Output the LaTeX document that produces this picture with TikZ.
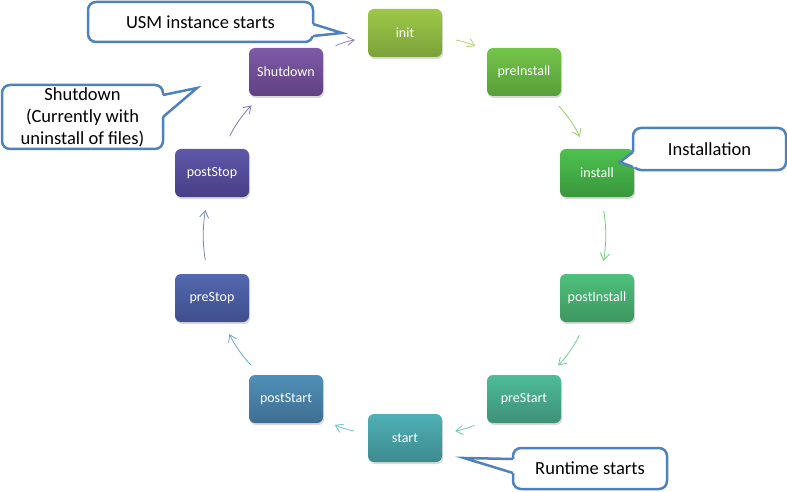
\documentclass[tikz,border=0pt]{standalone}
\usepackage{fontspec}
\setmainfont{Carlito}
\usetikzlibrary{arrows.meta,shadows}
\definecolor{cb}{HTML}{4F81BD}
\definecolor{t1}{HTML}{9DC847}\definecolor{b1}{HTML}{7AA23A}
\definecolor{t2}{HTML}{74C44A}\definecolor{b2}{HTML}{579E39}
\definecolor{t3}{HTML}{4CC24E}\definecolor{b3}{HTML}{3A963C}
\definecolor{t4}{HTML}{4EC07C}\definecolor{b4}{HTML}{3D9660}
\definecolor{t5}{HTML}{4EBC98}\definecolor{b5}{HTML}{3E9078}
\definecolor{t6}{HTML}{4EB0B5}\definecolor{b6}{HTML}{3E8A8E}
\definecolor{t7}{HTML}{5090B8}\definecolor{b7}{HTML}{3E6E90}
\definecolor{t8}{HTML}{5468B0}\definecolor{b8}{HTML}{3F4E8C}
\definecolor{t9}{HTML}{5E58A8}\definecolor{b9}{HTML}{463F86}
\definecolor{t10}{HTML}{7F5AA6}\definecolor{b10}{HTML}{5F4183}
\tikzset{
  stage/.style n args={2}{rectangle, rounded corners=6pt, minimum width=74pt, minimum height=48pt,
    top color=#1, bottom color=#2, text=white, font=\fontsize{14}{16}\selectfont,
    drop shadow={opacity=0.3, shadow xshift=1pt, shadow yshift=-2pt}},
  flow/.style={line width=0.8pt, draw=#1!80!white, -{Straight Barb[length=7pt,width=9pt,line width=0.8pt]},
    bend left=10, shorten <=14pt, shorten >=13pt},
  callbox/.style={rectangle, rounded corners=8pt, draw=cb, line width=2.5pt, fill=white,
    font=\fontsize{18.5}{22}\selectfont, align=center, inner sep=0pt},
  callptr/.style={draw=cb, line width=2.5pt, line join=miter, miter limit=20},
}
\begin{document}
\begin{tikzpicture}[x=1pt,y=1pt]
\useasboundingbox (0,0) rectangle (787,491);
% stages
\node[stage={t1}{b1}] (init) at (405,458) {init};
\node[stage={t2}{b2}] (preInstall) at (524,419) {preInstall};
\node[stage={t3}{b3}] (install) at (597,318) {install};
\node[stage={t4}{b4}] (postInstall) at (597,193) {postInstall};
\node[stage={t5}{b5}] (preStart) at (524,92) {preStart};
\node[stage={t6}{b6}] (start) at (405,53) {start};
\node[stage={t7}{b7}] (postStart) at (286,92) {postStart};
\node[stage={t8}{b8}] (preStop) at (212,193) {preStop};
\node[stage={t9}{b9}] (postStop) at (212,318) {postStop};
\node[stage={t10}{b10}] (Shutdown) at (286,419) {Shutdown};
% connectors
\draw[flow=t1] (init) to (preInstall);
\draw[flow=t2] (preInstall) to (install);
\draw[flow=t3] (install) to (postInstall);
\draw[flow=t4] (postInstall) to (preStart);
\draw[flow=t5] (preStart) to (start);
\draw[flow=t6] (start) to (postStart);
\draw[flow=t7] (postStart) to (preStop);
\draw[flow=t8] (preStop) to (postStop);
\draw[flow=t9] (postStop) to (Shutdown);
\draw[flow=t10] (Shutdown) to (init);
% callout 1
\node[callbox, minimum width=225pt, minimum height=40pt] (c1) at (200.5,469) {USM instance starts};
\coordinate (c1a) at (313,467); \coordinate (c1b) at (313,455); \coordinate (c1t) at (342,458);
\fill[white] ([xshift=-3pt]c1a) -- (c1a) -- (c1t) -- (c1b) -- ([xshift=-3pt]c1b) -- cycle;
\draw[callptr] (c1a) -- (c1t) -- (c1b);
% callout 2
\node[callbox, minimum width=161pt, minimum height=64pt] (c2) at (82.5,374) {Shutdown\\(Currently with\\uninstall of files)};
\coordinate (c2a) at (163,396); \coordinate (c2b) at (163,374); \coordinate (c2t) at (197,403);
\fill[white] ([xshift=-3pt]c2a) -- (c2a) -- (c2t) -- (c2b) -- ([xshift=-3pt]c2b) -- cycle;
\draw[callptr] (c2a) -- (c2t) -- (c2b);
% callout 3
\node[callbox, minimum width=153pt, minimum height=42pt] (c3) at (709.5,342) {Installation};
\coordinate (c3a) at (633,339); \coordinate (c3b) at (633,324); \coordinate (c3t) at (620,329);
\fill[white] ([xshift=3pt]c3a) -- (c3a) -- (c3t) -- (c3b) -- ([xshift=3pt]c3b) -- cycle;
\draw[callptr] (c3a) -- (c3t) -- (c3b);
% callout 4
\node[callbox, minimum width=154pt, minimum height=41pt] (c4) at (590,22.5) {Runtime starts};
\coordinate (c4a) at (513,32); \coordinate (c4b) at (513,18); \coordinate (c4t) at (464,33);
\fill[white] ([xshift=3pt]c4a) -- (c4a) -- (c4t) -- (c4b) -- ([xshift=3pt]c4b) -- cycle;
\draw[callptr] (c4a) -- (c4t) -- (c4b);
\end{tikzpicture}
\end{document}
